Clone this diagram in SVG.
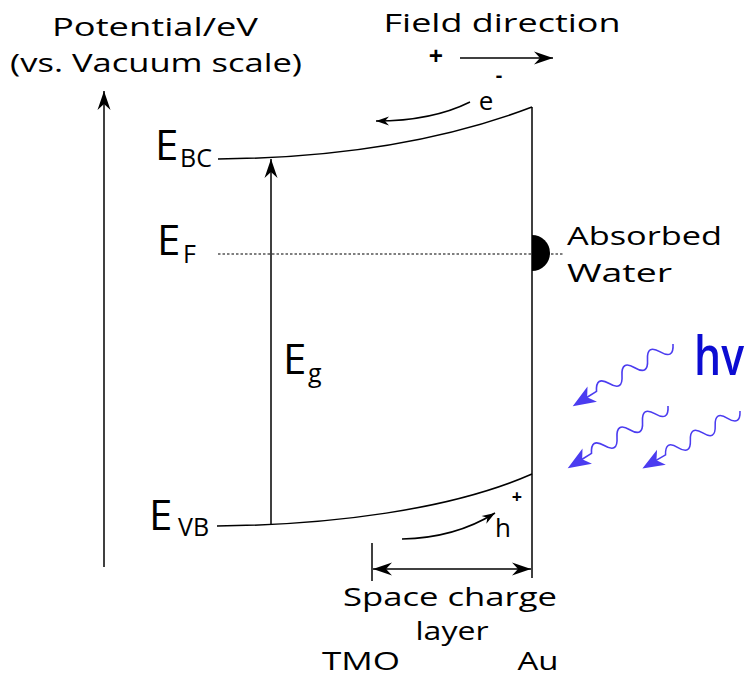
<svg xmlns="http://www.w3.org/2000/svg" width="751" height="678" viewBox="0 0 751 678">
<style>
text{font-family:"Open Sans","DejaVu Sans",sans-serif;fill:#000}
.lbl{font-size:25px}
.big{font-size:42px}
.sub{font-size:25px}
.ln{fill:none;stroke:#000;stroke-width:1.5}
.wave{fill:none;stroke:#4b3cf0;stroke-width:1.6}
.whead{fill:#4b3cf0}
</style>
<defs>
<marker id="ah" viewBox="-20 -8 22 16" refX="0" refY="0" markerWidth="22" markerHeight="16" markerUnits="userSpaceOnUse" orient="auto-start-reverse">
<path d="M0,0 L-19,-6.5 L-13,0 L-19,6.5 z" fill="#000"/>
</marker>
<marker id="as" viewBox="-14 -6 16 12" refX="0" refY="0" markerWidth="16" markerHeight="12" markerUnits="userSpaceOnUse" orient="auto">
<path d="M0,0 L-13,-4.5 L-9,0 L-13,4.5 z" fill="#000"/>
</marker>
<g id="photon">
<path class="wave" d="M0,0 q7.5,-14 15,0 t15,0 t15,0 t15,0 t15,0 t15,0 L102,0"/>
<path class="whead" d="M118,0 L95,-9 L101,0 L95,9 z"/>
</g>
</defs>

<g id="axis">
<text class="lbl" x="155" y="36" text-anchor="middle" textLength="206" lengthAdjust="spacingAndGlyphs">Potential/eV</text>
<text class="lbl" x="156" y="72" text-anchor="middle" textLength="292" lengthAdjust="spacingAndGlyphs">(vs. Vacuum scale)</text>
</g>

<g id="field">
<text class="lbl" x="502" y="32" text-anchor="middle" textLength="237" lengthAdjust="spacingAndGlyphs">Field direction</text>
<text class="lbl" x="436" y="65" text-anchor="middle" font-weight="bold">+</text>
</g>

<g id="electron">
<text x="486" y="110" font-size="26px" text-anchor="middle">e</text>
<text x="499" y="82" font-size="20px" text-anchor="middle" font-weight="bold">-</text>
</g>

<g id="hole">
<text x="503" y="537" font-size="26px" text-anchor="middle">h</text>
<text x="517" y="503" font-size="18px" text-anchor="middle" font-weight="bold">+</text>
</g>

<g id="ebc">
<text class="big" x="155" y="160">E</text>
<text class="sub" x="180" y="167">BC</text>
</g>
<g id="ef">
<text class="big" x="157" y="255">E</text>
<text class="sub" x="183" y="263">F</text>
</g>
<g id="eg">
<text class="big" x="283" y="374">E</text>
<text class="sub" x="308" y="382">g</text>
</g>
<g id="evb">
<text class="big" x="149" y="530">E</text>
<text class="sub" x="178" y="536">VB</text>
</g>

<g id="water">
<path d="M532,235 A18,18 0 0 1 532,271 z" fill="#000"/>
<text class="lbl" x="567" y="245" textLength="155" lengthAdjust="spacingAndGlyphs">Absorbed</text>
<text class="lbl" x="567" y="282" textLength="105" lengthAdjust="spacingAndGlyphs">Water</text>
</g>

<g id="hv">
<text x="694" y="375" font-size="54px" font-weight="600" fill="#0c0cd2" style="fill:#0c0cd2" textLength="50" lengthAdjust="spacingAndGlyphs">hv</text>
<use href="#photon" transform="translate(673,344) rotate(148.2)"/>
<use href="#photon" transform="translate(668,406) rotate(148.2)"/>
<use href="#photon" transform="translate(740,411) rotate(149.5) scale(0.96)"/>
</g>

<g id="labels">
<text class="lbl" x="450" y="606" text-anchor="middle" textLength="214" lengthAdjust="spacingAndGlyphs">Space charge</text>
<text class="lbl" x="452" y="640" text-anchor="middle" textLength="73" lengthAdjust="spacingAndGlyphs">layer</text>
<text class="lbl" x="361" y="670" text-anchor="middle" textLength="78" lengthAdjust="spacingAndGlyphs">TMO</text>
<text class="lbl" x="538" y="670" text-anchor="middle" textLength="41" lengthAdjust="spacingAndGlyphs">Au</text>
</g>

<g id="connectors">
<line class="ln" x1="104" y1="567" x2="104" y2="91" marker-end="url(#ah)"/>
<line class="ln" x1="460" y1="58" x2="553" y2="58" marker-end="url(#ah)"/>
<line class="ln" x1="532" y1="107" x2="532" y2="578"/>
<path class="ln" d="M218,159 C330,158 440,142 532,107"/>
<path class="ln" d="M217,526 C330,525 450,510 532,474"/>
<line x1="218" y1="254" x2="564" y2="254" stroke="#000" stroke-width="1.2" stroke-dasharray="2.5,2"/>
<line class="ln" x1="271" y1="525" x2="271" y2="159" marker-end="url(#ah)"/>
<path class="ln" d="M470,102 Q432,121 376,121" marker-end="url(#as)"/>
<path class="ln" d="M402,539 Q455,538 495,513" marker-end="url(#as)"/>
<line class="ln" x1="372" y1="543" x2="372" y2="581"/>
<line class="ln" x1="373" y1="569" x2="531" y2="569" marker-start="url(#ah)" marker-end="url(#ah)"/>
</g>
</svg>
